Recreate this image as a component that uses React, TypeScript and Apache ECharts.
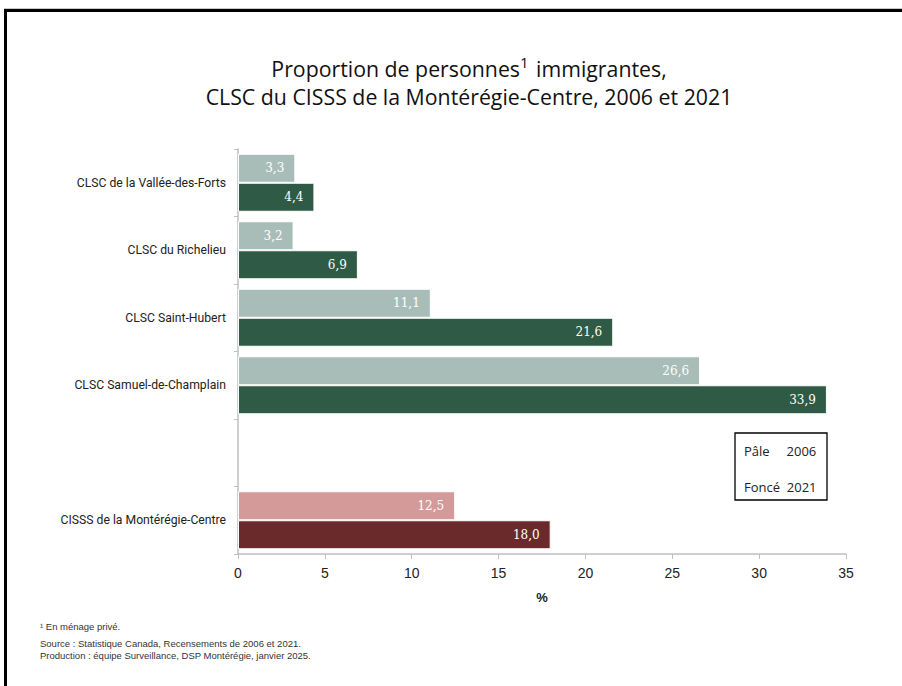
import React, { useEffect, useRef } from "react";
import * as echarts from "echarts";

const categories = [
  "CLSC de la Vallée-des-Forts",
  "CLSC du Richelieu",
  "CLSC Saint-Hubert",
  "CLSC Samuel-de-Champlain",
  "",
  "CISSS de la Montérégie-Centre",
];
const values2006: (number | null)[] = [3.3, 3.2, 11.1, 26.6, null, 12.5];
const values2021: (number | null)[] = [4.4, 6.9, 21.6, 33.9, null, 18.0];
const xTicks = [0, 5, 10, 15, 20, 25, 30, 35];

const pale = "#a9bdb8";
const dark = "#2f5a45";
const paleRed = "#d49a99";
const darkRed = "#6a2a2c";

export default function App() {
  const ref = useRef<HTMLDivElement>(null);
  useEffect(() => {
    if (!ref.current) return;
    const chart = echarts.init(ref.current, null, { renderer: "svg" });
    const fmt = (p: any) =>
      p.value == null ? "" : Number(p.value).toFixed(1).replace(".", ",");
    const mk = (vals: (number | null)[], c: string, cLast: string) =>
      vals.map((v, i) => ({
        value: v,
        itemStyle: { color: i === vals.length - 1 ? cLast : c },
      }));
    const lbl = {
      show: true,
      position: "insideRight",
      distance: 11,
      color: "#ffffff",
      fontFamily: "DejaVu Serif",
      fontSize: 12,
      formatter: fmt,
    };
    chart.setOption({
      animation: false,
      backgroundColor: "#ffffff",
      title: {
        text: "Proportion de personnes{sup|1} immigrantes,\nCLSC du CISSS de la Montérégie-Centre, 2006 et 2021",
        left: 464,
        textAlign: "center",
        top: 49,
        textStyle: {
          fontFamily: "Open Sans",
          fontSize: 21.3,
          fontWeight: "normal",
          color: "#111",
          lineHeight: 28,
          rich: {
            sup: {
              fontFamily: "Open Sans",
              fontSize: 15,
              verticalAlign: "top",
              lineHeight: 28,
              padding: [0, 2, 8, 0],
              color: "#111",
            },
          },
        },
      },
      grid: { left: 238, right: 56, top: 149, bottom: 132, containLabel: false },
      xAxis: {
        type: "value",
        min: 0,
        max: 35,
        interval: 5,
        name: "%",
        nameLocation: "middle",
        nameGap: 37,
        nameTextStyle: {
          fontFamily: "Liberation Sans",
          fontSize: 13,
          fontWeight: "bold",
          color: "#222",
        },
        axisLine: { show: true, lineStyle: { color: "#bfbfbf", width: 1.5 } },
        axisTick: { show: true, length: 5, lineStyle: { color: "#bfbfbf" } },
        splitLine: { show: false },
        axisLabel: {
          fontFamily: "Liberation Sans",
          fontSize: 14,
          color: "#222",
          margin: 12,
          formatter: (v: number) => (xTicks.includes(v) ? String(v) : ""),
        },
      },
      yAxis: {
        type: "category",
        inverse: true,
        data: categories,
        axisLine: { show: true, lineStyle: { color: "#bfbfbf", width: 1.5 } },
        axisTick: { show: true, length: 4, lineStyle: { color: "#bfbfbf" } },
        axisLabel: {
          fontFamily: "Roboto",
          fontSize: 12.2,
          color: "#222",
          margin: 12,
        },
      },
      series: [
        {
          type: "bar",
          name: "2006",
          data: mk(values2006, pale, paleRed),
          barWidth: 29,
          barGap: "0%",
          itemStyle: { borderColor: "#ffffff", borderWidth: 1 },
          label: lbl,
        },
        {
          type: "bar",
          name: "2021",
          data: mk(values2021, dark, darkRed),
          barWidth: 29,
          barGap: "0%",
          itemStyle: { borderColor: "#ffffff", borderWidth: 1 },
          label: lbl,
        },
      ],
      graphic: [
        { type: "rect", shape: { x: 4, y: 8, width: 900, height: 1 }, style: { fill: "#c8c8c8" } },
        { type: "rect", shape: { x: 4, y: 9, width: 900, height: 3 }, style: { fill: "#000" } },
        { type: "rect", shape: { x: 4, y: 9, width: 3, height: 680 }, style: { fill: "#000" } },
        {
          type: "rect",
          shape: { x: 735, y: 433, width: 92, height: 67 },
          style: { fill: "#fff", stroke: "#000", lineWidth: 1.3 },
        },
        {
          type: "text",
          x: 744,
          y: 451,
          style: { text: "Pâle     2006", font: "13px 'Open Sans'", fill: "#222", verticalAlign: "middle" },
        },
        {
          type: "text",
          x: 744,
          y: 487,
          style: { text: "Foncé  2021", font: "13px 'Open Sans'", fill: "#222", verticalAlign: "middle" },
        },
        {
          type: "text",
          x: 40,
          y: 626,
          style: { text: "¹ En ménage privé.", font: "9.5px 'Liberation Sans'", fill: "#333", verticalAlign: "middle" },
        },
        {
          type: "text",
          x: 40,
          y: 643,
          style: {
            text: "Source : Statistique Canada, Recensements de 2006 et 2021.",
            font: "9.5px 'Liberation Sans'",
            fill: "#333",
            verticalAlign: "middle",
          },
        },
        {
          type: "text",
          x: 40,
          y: 655,
          style: {
            text: "Production : équipe Surveillance, DSP Montérégie, janvier 2025.",
            font: "9.5px 'Liberation Sans'",
            fill: "#333",
            verticalAlign: "middle",
          },
        },
      ],
    });
    return () => chart.dispose();
  }, []);
  return (
    <div
      ref={ref}
      style={{ position: "fixed", left: 0, top: 0, width: 902, height: 686 }}
    />
  );
}
